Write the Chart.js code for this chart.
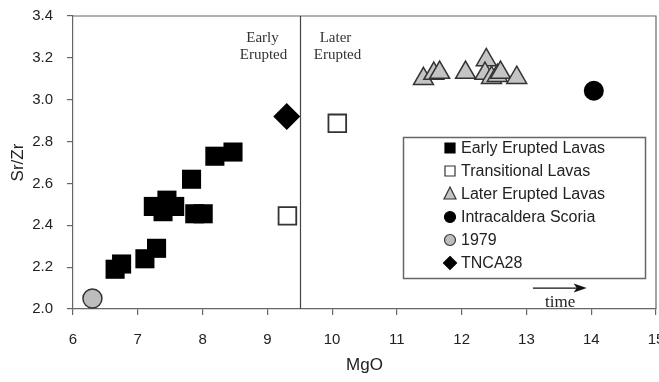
<!DOCTYPE html>
<html>
<head>
<meta charset="utf-8">
<script src="https://cdn.jsdelivr.net/npm/chart.js@4.4.0/dist/chart.umd.min.js"></script>
<style>
  html, body { margin: 0; padding: 0; background: #fff; }
  #wrap { width: 659px; height: 382px; }
</style>
</head>
<body>
<div id="wrap"><canvas id="chart" width="659" height="382"></canvas></div>
<script>
// MgO (x) and Sr/Zr (y)
const earlyMgO = [6.65, 6.75, 7.11, 7.29, 7.24, 7.45, 7.39, 7.57, 7.83, 7.88, 8.01, 8.19, 8.47];
const earlySrZr = [2.19, 2.215, 2.24, 2.29, 2.49, 2.52, 2.465, 2.49, 2.62, 2.455, 2.455, 2.73, 2.75];

const transMgO = [9.31, 10.08];
const transSrZr = [2.445, 2.887];

const laterMgO = [11.41, 11.57, 11.66, 12.06, 12.38, 12.36, 12.46, 12.55, 12.6, 12.85];
const laterSrZr = [3.10, 3.125, 3.13, 3.13, 3.19, 3.125, 3.105, 3.115, 3.13, 3.105];

const scoriaMgO = [14.04];
const scoriaSrZr = [3.043];

const mgO1979 = [6.3];
const srZr1979 = [2.05];

const tncaMgO = [9.3];
const tncaSrZr = [2.92];

const xTicks = [6, 7, 8, 9, 10, 11, 12, 13, 14, 15];
const yTicks = [2.0, 2.2, 2.4, 2.6, 2.8, 3.0, 3.2, 3.4];

const dividerMgO = 9.5;

const axisColor = '#666';
const textColor = '#222';

function pts(xs, ys) {
  return xs.map((x, i) => ({ x: x, y: ys[i] }));
}

// small marker for the legend box
function legendMarker(ctx, ds, x, y) {
  ctx.save();
  ctx.fillStyle = ds.backgroundColor;
  ctx.strokeStyle = ds.borderColor;
  ctx.lineWidth = 1.2;
  ctx.beginPath();
  if (ds.pointStyle === 'rect') {
    ctx.rect(x - 5, y - 5, 10, 10);
  } else if (ds.pointStyle === 'triangle') {
    ctx.moveTo(x, y - 7);
    ctx.lineTo(x + 6, y + 5);
    ctx.lineTo(x - 6, y + 5);
    ctx.closePath();
  } else if (ds.pointStyle === 'rectRot') {
    ctx.moveTo(x, y - 6.5);
    ctx.lineTo(x + 6.5, y);
    ctx.lineTo(x, y + 6.5);
    ctx.lineTo(x - 6.5, y);
    ctx.closePath();
  } else {
    ctx.arc(x, y, 5.5, 0, Math.PI * 2);
  }
  ctx.fill();
  ctx.stroke();
  ctx.restore();
}

const decorPlugin = {
  id: 'decor',
  beforeDatasetsDraw(chart) {
    const { ctx, chartArea, scales } = chart;
    const xs = scales.x;
    const ys = scales.y;
    ctx.save();
    ctx.strokeStyle = axisColor;
    ctx.lineWidth = 1.2;
    // frame top and right
    ctx.beginPath();
    ctx.moveTo(chartArea.left, chartArea.top);
    ctx.lineTo(chartArea.right, chartArea.top);
    ctx.lineTo(chartArea.right, chartArea.bottom);
    ctx.stroke();
    // early / later divider
    const dx = Math.round(xs.getPixelForValue(dividerMgO)) + 0.5;
    ctx.strokeStyle = '#444';
    ctx.beginPath();
    ctx.moveTo(dx, chartArea.top);
    ctx.lineTo(dx, chartArea.bottom);
    ctx.stroke();

    ctx.fillStyle = '#333';
    ctx.font = '15px "Liberation Serif", "Times New Roman", serif';
    ctx.textAlign = 'center';
    ctx.textBaseline = 'middle';
    const y1 = chartArea.top + 22;
    const y2 = chartArea.top + 39;
    ctx.fillText('Early', dx - 38, y1);
    ctx.fillText('Erupted', dx - 37, y2);
    ctx.fillText('Later', dx + 35, y1);
    ctx.fillText('Erupted', dx + 37, y2);

    // time arrow
    const ax0 = xs.getPixelForValue(13.1);
    const ax1 = xs.getPixelForValue(13.93);
    const ay = ys.getPixelForValue(2.1);
    ctx.strokeStyle = '#111';
    ctx.fillStyle = '#111';
    ctx.lineWidth = 1.3;
    ctx.beginPath();
    ctx.moveTo(ax0, ay);
    ctx.lineTo(ax1 - 8, ay);
    ctx.stroke();
    ctx.beginPath();
    ctx.moveTo(ax1, ay);
    ctx.lineTo(ax1 - 13, ay - 4.5);
    ctx.lineTo(ax1 - 10, ay);
    ctx.lineTo(ax1 - 13, ay + 4.5);
    ctx.closePath();
    ctx.fill();
    ctx.font = '17px "Liberation Serif", "Times New Roman", serif';
    ctx.fillStyle = '#222';
    ctx.fillText('time', xs.getPixelForValue(13.52), ys.getPixelForValue(2.03));
    ctx.restore();
  },
  afterDraw(chart) {
    const { ctx } = chart;
    const boxL = 403, boxT = 137, boxR = 645, boxB = 278;
    ctx.save();
    ctx.fillStyle = '#fff';
    ctx.fillRect(boxL, boxT, boxR - boxL, boxB - boxT);
    ctx.strokeStyle = axisColor;
    ctx.lineWidth = 1.5;
    ctx.strokeRect(boxL + 0.5, boxT + 0.5, boxR - boxL, boxB - boxT);
    ctx.font = '16px "Liberation Sans", Arial, sans-serif';
    ctx.textAlign = 'left';
    ctx.textBaseline = 'middle';
    chart.data.datasets.forEach((ds, i) => {
      const y = boxT + 11 + i * 23;
      legendMarker(ctx, ds, 450, y);
      ctx.fillStyle = textColor;
      ctx.fillText(ds.label, 461, y + 1);
    });
    ctx.restore();
  }
};

new Chart(document.getElementById('chart'), {
  type: 'scatter',
  data: {
    datasets: [
      {
        label: 'Early Erupted Lavas',
        data: pts(earlyMgO, earlySrZr),
        pointStyle: 'rect',
        pointRadius: 13.5,
        backgroundColor: '#000',
        borderColor: '#000',
        borderWidth: 0,
      },
      {
        label: 'Transitional Lavas',
        data: pts(transMgO, transSrZr),
        pointStyle: 'rect',
        pointRadius: 12.5,
        backgroundColor: '#fff',
        borderColor: '#333',
        borderWidth: 1.8,
      },
      {
        label: 'Later Erupted Lavas',
        data: pts(laterMgO, laterSrZr),
        pointStyle: 'triangle',
        pointRadius: 11.5,
        backgroundColor: '#c4c4c4',
        borderColor: '#333',
        borderWidth: 1.5,
      },
      {
        label: 'Intracaldera Scoria',
        data: pts(scoriaMgO, scoriaSrZr),
        pointStyle: 'circle',
        pointRadius: 10,
        backgroundColor: '#000',
        borderColor: '#000',
        borderWidth: 0,
      },
      {
        label: '1979',
        data: pts(mgO1979, srZr1979),
        pointStyle: 'circle',
        pointRadius: 9.5,
        backgroundColor: '#bdbdbd',
        borderColor: '#333',
        borderWidth: 1.5,
      },
      {
        label: 'TNCA28',
        data: pts(tncaMgO, tncaSrZr),
        pointStyle: 'rectRot',
        pointRadius: 13.5,
        backgroundColor: '#000',
        borderColor: '#000',
        borderWidth: 0,
      },
    ],
  },
  options: {
    responsive: false,
    animation: false,
    devicePixelRatio: 1,
    layout: { autoPadding: false, padding: { top: 16, right: 3, left: 0, bottom: 0 } },
    plugins: {
      legend: { display: false },
      tooltip: { enabled: false },
    },
    elements: { point: { hoverRadius: 0 } },
    scales: {
      x: {
        type: 'linear',
        min: xTicks[0],
        max: xTicks[xTicks.length - 1],
        afterBuildTicks: (scale) => { scale.ticks = xTicks.map(v => ({ value: v })); },
        ticks: {
          font: { family: '"Liberation Sans", Arial, sans-serif', size: 15 },
          color: textColor,
          padding: 16,
          maxRotation: 0,
          autoSkip: false,
        },
        grid: { drawOnChartArea: false, drawTicks: true, tickLength: 6, color: axisColor, lineWidth: 1.2 },
        border: { color: axisColor, width: 1.2 },
        title: {
          display: true,
          text: 'MgO',
          color: textColor,
          font: { family: '"Liberation Sans", Arial, sans-serif', size: 17 },
          padding: { top: 0, bottom: 6 },
        },
        afterFit: (scale) => {
          scale.height = 73;
          scale.paddingLeft = 0;
          scale.paddingRight = 0;
        },
      },
      y: {
        type: 'linear',
        min: yTicks[0],
        max: yTicks[yTicks.length - 1],
        afterBuildTicks: (scale) => { scale.ticks = yTicks.map(v => ({ value: v })); },
        ticks: {
          font: { family: '"Liberation Sans", Arial, sans-serif', size: 15 },
          color: textColor,
          padding: 14,
          callback: (v) => Number(v).toFixed(1),
        },
        grid: { drawOnChartArea: false, drawTicks: true, tickLength: 6, color: axisColor, lineWidth: 1.2 },
        border: { color: axisColor, width: 1.2 },
        title: {
          display: true,
          text: 'Sr/Zr',
          color: textColor,
          font: { family: '"Liberation Sans", Arial, sans-serif', size: 17 },
          padding: { top: 8, bottom: 0 },
        },
        afterFit: (scale) => {
          scale.width = 73;
          scale.paddingTop = 0;
          scale.paddingBottom = 0;
        },
      },
    },
  },
  plugins: [decorPlugin],
});
</script>
</body>
</html>
